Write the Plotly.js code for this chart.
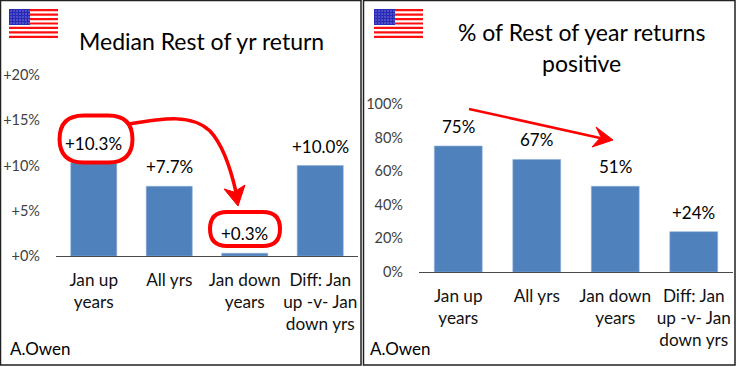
<!DOCTYPE html>
<html><head><meta charset="utf-8">
<script src="https://cdn.plot.ly/plotly-3.0.1.min.js"></script>
<style>html,body{margin:0;padding:0;background:#fff}#c{width:737px;height:367px}</style>
</head><body><div id="c"></div>
<script>
const categories = ["Jan up<br>years","All yrs","Jan down<br>years","Diff: Jan<br>up -v- Jan<br>down yrs"];
const medianValues = [10.3,7.7,0.3,10.0];
const medianLabels = ["+10.3%","+7.7%","+0.3%","+10.0%"];
const positiveValues = [75,67,51,24];
const positiveLabels = ["75%","67%","51%","+24%"];
const medianTicks = [0,5,10,15,20];
const medianTickText = ["+0%","+5%","+10%","+15%","+20%"];
const positiveTicks = [0,20,40,60,80,100];
const positiveTickText = ["0%","20%","40%","60%","80%","100%"];
const titleLeft = "Median Rest of yr return";
const titleRight = ["% of Rest of year returns","positive"];
const credit = "A.Owen";

const W=737,H=367;
const fx=x=>x/W, fy=y=>1-y/H;
const RED="#ff0000", BAR="#4f81bd", FONT="Lato, Carlito, 'Open Sans', sans-serif";
const ps=(path,o)=>Object.assign({type:"path",xref:"paper",yref:"paper",path:path,layer:"above"},o);
const P=(x,y)=>fx(x)+","+fy(y);
function box(x0,y0,x1,y1,o){return Object.assign({type:"rect",xref:"paper",yref:"paper",x0:fx(x0),x1:fx(x1),y0:fy(y0),y1:fy(y1),layer:"above"},o);}
function rounded(x0,y0,x1,y1,r,w){
  return ps("M"+P(x0+r,y0)+" L"+P(x1-r,y0)+" Q"+P(x1,y0)+" "+P(x1,y0+r)+" L"+P(x1,y1-r)+" Q"+P(x1,y1)+" "+P(x1-r,y1)+
   " L"+P(x0+r,y1)+" Q"+P(x0,y1)+" "+P(x0,y1-r)+" L"+P(x0,y0+r)+" Q"+P(x0,y0)+" "+P(x0+r,y0)+" Z",{line:{color:RED,width:w},fillcolor:"rgba(0,0,0,0)"});
}
function flag(x,y){
  const out=[],w=49,h=29,sh=h/13;
  for(let i=0;i<13;i+=2){ out.push(box(x,y+i*sh,x+w,y+(i+1)*sh,{fillcolor:"#ff1010",line:{width:0}})); }
  out.push(box(x,y,x+21,y+16,{fillcolor:"#2a2ab8",line:{width:0}}));
  for(let r=0;r<5;r++)for(let c=0;c<7;c++){
    const dx=x+1.5+c*3, dy=y+1.5+r*3;
    out.push(box(dx,dy,dx+1,dy+1,{fillcolor:"#b8b8ee",line:{width:0}}));
  }
  return out;
}

const data=[
 {type:"bar",x:[0,1,2,3],y:medianValues,xaxis:"x",yaxis:"y",marker:{color:BAR,line:{color:"#8fb0d8",width:0.6}},hoverinfo:"skip"},
 {type:"bar",x:[0,1,2,3],y:positiveValues,xaxis:"x2",yaxis:"y2",marker:{color:BAR,line:{color:"#8fb0d8",width:0.6}},hoverinfo:"skip"}
];
const xCommon={type:"linear",range:[-0.5,3.5],tickmode:"array",tickvals:[0,1,2,3],ticktext:categories,
  tickfont:{family:FONT,size:17.2,color:"#111"},ticks:"",showgrid:false,zeroline:false,showline:true,linecolor:"#4a4a4a",linewidth:1,ticklabelstandoff:8,tickangle:0,automargin:false};
const yCommon={showgrid:false,zeroline:false,showline:false,ticks:"",tickmode:"array",
  tickfont:{family:FONT,size:14.5,color:"#404040"},ticklabelstandoff:15,automargin:false};

const annotations=[];
const note=(text,x,y,size,anchor,extra)=>annotations.push(Object.assign({text:text,x:fx(x),y:fy(y),xref:"paper",yref:"paper",showarrow:false,
  xanchor:anchor||"center",yanchor:"middle",font:{family:FONT,size:size,color:"#000"}},extra||{}));
note(titleLeft,202,41,23);
note(titleRight[0],581,32,23);
note(titleRight[1],581,63,23);
note(credit,8,348,17,"left");
note(credit,368,348,17,"left");
medianValues.forEach((v,i)=>annotations.push({text:medianLabels[i],x:i,y:v,xref:"x",yref:"y",showarrow:false,yanchor:"middle",yshift:19.5,font:{family:FONT,size:17,color:"#000"}}));
positiveValues.forEach((v,i)=>annotations.push({text:positiveLabels[i],x:i,y:v,xref:"x2",yref:"y2",showarrow:false,yanchor:"middle",yshift:19.5,font:{family:FONT,size:17,color:"#000"}}));

const shapes=[
 box(0.5,0.5,361,365,{line:{color:"#222",width:1.5},fillcolor:"rgba(0,0,0,0)",layer:"below"}),
 box(363.5,0.5,735,365,{line:{color:"#222",width:1.5},fillcolor:"rgba(0,0,0,0)",layer:"below"}),
 ...flag(9,9),...flag(374,9),
 rounded(59.5,115.5,132.5,162.5,24,4),
 rounded(210,212,280,246,17,4),
 ps("M"+P(129,124)+" C"+P(165,118)+" "+P(192,114)+" "+P(210,131)+" C"+P(224,146)+" "+P(231,170)+" "+P(236,192),{line:{color:RED,width:3.5},fillcolor:"rgba(0,0,0,0)"}),
 ps("M"+P(238,206)+" L"+P(224,189)+" L"+P(234,192)+" L"+P(245,185)+" Z",{line:{color:RED,width:1},fillcolor:RED}),
 ps("M"+P(469,109)+" L"+P(600,138),{line:{color:RED,width:2.5}}),
 ps("M"+P(613,140)+" L"+P(596,127)+" L"+P(601,137)+" L"+P(592,147)+" Z",{line:{color:RED,width:1},fillcolor:RED})
];

const layout={width:W,height:H,margin:{l:0,r:0,t:0,b:0},paper_bgcolor:"#fff",plot_bgcolor:"rgba(0,0,0,0)",showlegend:false,bargap:0.39,
 xaxis:Object.assign({},xCommon,{domain:[fx(56),fx(358)],anchor:"y"}),
 yaxis:Object.assign({},yCommon,{domain:[fy(256),fy(75)],range:[0,20],tickvals:medianTicks,ticktext:medianTickText,anchor:"x"}),
 xaxis2:Object.assign({},xCommon,{domain:[fx(419),fx(733)],anchor:"y2"}),
 yaxis2:Object.assign({},yCommon,{domain:[fy(272),fy(104)],range:[0,100],tickvals:positiveTicks,ticktext:positiveTickText,anchor:"x2"}),
 annotations:annotations,shapes:shapes};
Plotly.newPlot("c",data,layout,{displayModeBar:false,staticPlot:true});
</script></body></html>
